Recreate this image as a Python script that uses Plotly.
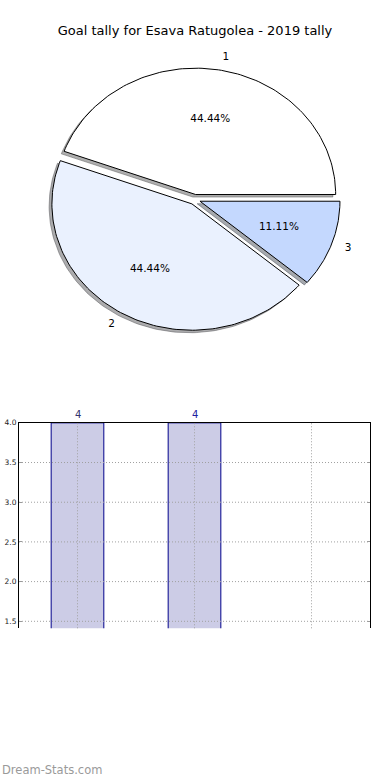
import numpy as np
import plotly.graph_objects as go

# ---- data ----
categories = ["1", "2", "3"]
goals = [4, 4, 1]
slice_colors = ["#FFFFFF", "#EAF1FE", "#C4D8FE"]
bar_label_colors = ["#32326E", "#1E1EA0", "#1E1EA0"]
y_ticks = [1.5, 2.0, 2.5, 3.0, 3.5, 4.0]
title_text = "Goal tally for Esava Ratugolea - 2019 tally"

# ---- styles / geometry ----
W, H = 390, 780
explode = 0.04
shadow_off = -0.02
pie_cx, pie_cy, pie_rx, pie_ry = 194.7, 196.5, 140.0, 127.0  # pixel center / radii
bar_y_min, bar_y_max = 1.412, 4.0

fig = go.Figure()

# ---- pie drawn as elliptical wedges (matplotlib style, radius 1 in data units) ----
total = float(sum(goals))
start = 0.0
pct_x, pct_y, pct_t = [], [], []
lab_l = ([], [], [])
lab_r = ([], [], [])
for cat, val, col in zip(categories, goals, slice_colors):
    frac = val / total
    t1, t2 = start, start + 360.0 * frac
    mid = np.deg2rad((t1 + t2) / 2)
    ox, oy = explode * np.cos(mid), explode * np.sin(mid)
    th = np.deg2rad(np.linspace(t1, t2, 120))
    xs = np.concatenate([[ox], ox + np.cos(th), [ox]])
    ys = np.concatenate([[oy], oy + np.sin(th), [oy]])
    r, g, b = [int(col[i:i + 2], 16) for i in (1, 3, 5)]
    sh = f"rgba({int(r*0.3)},{int(g*0.3)},{int(b*0.3)},0.45)"
    fig.add_trace(go.Scatter(x=xs + shadow_off, y=ys + shadow_off, mode="lines", fill="toself",
                             fillcolor=sh, line=dict(color=sh, width=1),
                             xaxis="x2", yaxis="y2", hoverinfo="skip", showlegend=False))
    fig.add_trace(go.Scatter(x=xs, y=ys, mode="lines", fill="toself", fillcolor=col,
                             line=dict(color="black", width=1),
                             xaxis="x2", yaxis="y2", hoverinfo="skip", showlegend=False))
    pct_x.append(ox + 0.6 * np.cos(mid))
    pct_y.append(oy + 0.6 * np.sin(mid))
    pct_t.append(f"{100*frac:.2f}%")
    lx, ly = ox + 1.1 * np.cos(mid), oy + 1.1 * np.sin(mid)
    tgt = lab_r if lx > 0 else lab_l
    tgt[0].append(lx); tgt[1].append(ly); tgt[2].append(cat)
    start = t2

fig.add_trace(go.Scatter(x=pct_x, y=pct_y, text=pct_t, mode="text", textposition="middle center",
                         textfont=dict(family="DejaVu Sans", size=10.5, color="black"),
                         xaxis="x2", yaxis="y2", hoverinfo="skip", showlegend=False))
fig.add_trace(go.Scatter(x=lab_r[0], y=lab_r[1], text=lab_r[2], mode="text", textposition="middle right",
                         textfont=dict(family="DejaVu Sans", size=10.5, color="black"),
                         xaxis="x2", yaxis="y2", hoverinfo="skip", showlegend=False))
fig.add_trace(go.Scatter(x=lab_l[0], y=lab_l[1], text=lab_l[2], mode="text", textposition="middle left",
                         textfont=dict(family="DejaVu Sans", size=10.5, color="black"),
                         xaxis="x2", yaxis="y2", hoverinfo="skip", showlegend=False))

# ---- bar chart ----
fig.add_trace(go.Bar(x=categories, y=goals, width=0.45,
                     marker=dict(color="rgba(0,0,128,0.2)", line=dict(color="#00008B", width=1)),
                     hoverinfo="skip", showlegend=False))
bar_annotations = [
    dict(x=i, y=v, xref="x", yref="y", text=str(v), showarrow=False, yanchor="bottom", yshift=1,
         font=dict(family="DejaVu Sans", size=10, color=tc))
    for i, (v, tc) in enumerate(zip(goals, bar_label_colors)) if bar_y_min <= v
]

# dotted grid drawn above the bars (matplotlib draws grid over patches here)
grid_line = dict(color="#a0a0a0", width=1, dash="1px,2px")
grid_shapes = (
    [dict(type="line", xref="x domain", yref="y", x0=0, x1=1, y0=t, y1=t, layer="above",
          line=grid_line) for t in y_ticks if t < bar_y_max]
    + [dict(type="line", xref="x", yref="y domain", x0=i, x1=i, y0=0, y1=1, layer="above",
            line=grid_line) for i in range(len(categories))]
)

fig.update_layout(
    width=W, height=H, margin=dict(l=0, r=0, t=0, b=0),
    paper_bgcolor="white", plot_bgcolor="white",
    font=dict(family="DejaVu Sans", color="black"),
    title=dict(text=title_text, x=0.5, xanchor="center", y=1 - 30 / H, yanchor="middle",
               font=dict(family="DejaVu Sans", size=13, color="black")),
    xaxis2=dict(domain=[0, 1], range=[-pie_cx / pie_rx, (W - pie_cx) / pie_rx], visible=False,
                anchor="y2", fixedrange=True),
    yaxis2=dict(domain=[0.5, 1], range=[(pie_cy - 390) / pie_ry, pie_cy / pie_ry], visible=False,
                anchor="x2", fixedrange=True),
    xaxis=dict(domain=[19 / W, 370 / W], type="category", categoryorder="array",
               categoryarray=categories, range=[-0.5, len(categories) - 0.5],
               showticklabels=False, side="top", showline=True, linecolor="black", linewidth=1,
               showgrid=False, zeroline=False, ticks="", anchor="y"),
    yaxis=dict(domain=[1 - 627.5 / H, 1 - 421 / H], range=[bar_y_min, bar_y_max],
               tickvals=y_ticks, ticktext=[f"{v:.1f}" for v in y_ticks],
               tickfont=dict(family="DejaVu Sans", size=7.5, color="#222222"),
               showline=True, linecolor="black", linewidth=1, mirror="ticks",
               showgrid=False, zeroline=False,
               ticks="inside", ticklen=3, tickcolor="#999999", anchor="x"),
    shapes=grid_shapes,
    annotations=bar_annotations + [
        dict(text="Dream-Stats.com", x=0, y=1 - 770 / H, xref="paper", yref="paper",
             xanchor="left", yanchor="middle", showarrow=False,
             font=dict(family="DejaVu Sans", size=11.5, color="#9a9a9a"))],
)

fig.write_html("out.html", config={"displayModeBar": False},
               post_script="document.body.style.margin='0';document.body.style.overflow='hidden';")
